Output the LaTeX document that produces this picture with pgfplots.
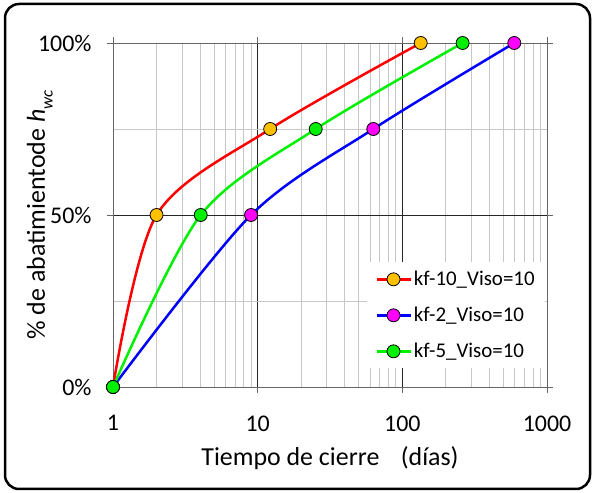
\documentclass[border=0pt]{standalone}
\usepackage{pgfplots}
\pgfplotsset{compat=1.18}
\usepackage{fontspec}
\setmainfont{Carlito}

\definecolor{cRed}{RGB}{255,0,0}
\definecolor{cBlue}{RGB}{0,0,255}
\definecolor{cGreen}{RGB}{0,240,0}
\definecolor{cOrange}{RGB}{255,192,0}
\definecolor{cMagenta}{RGB}{255,0,255}

\begin{document}
\begin{tikzpicture}
\path[use as bounding box] (0,0) rectangle (593bp,493bp);
\draw[line width=2.5bp, rounded corners=14bp] (5bp,4bp) rectangle (590bp,489bp);
\begin{axis}[
    at={(113bp,106bp)}, anchor=south west,
    scale only axis, width=434bp, height=344bp,
    xmode=log, xmin=1, xmax=1000, ymin=0, ymax=100,
    xtick={1,10,100,1000}, xticklabels={1,10,100,1000},
    minor xtick={2,3,4,5,6,7,8,9,20,30,40,50,60,70,80,90,200,300,400,500,600,700,800,900},
    ytick={0,50,100}, yticklabels={0\%,50\%,100\%},
    minor ytick={25,75},
    grid=both,
    major grid style={draw=black!85, line width=0.9bp},
    minor grid style={draw=black!22, line width=0.9bp},
    axis line style={draw=black!60, line width=0.9bp},
    tick align=outside, major tick length=6bp, minor tick length=0bp,
    tick style={draw=black!60, line width=0.9bp},
    ticklabel style={font=\fontsize{24}{28}\selectfont},
    xticklabel style={yshift=-19bp},
    yticklabel style={xshift=-12bp},
    xlabel={Tiempo de cierre\hspace{0.6em} (días)},
    xlabel style={font=\fontsize{26}{30}\selectfont, at={(axis description cs:0.5,-0.228)}, anchor=base},
    ylabel={\% de abatimientode \textit{h}\raisebox{-0.3em}{\fontsize{17}{20}\selectfont\textit{wc}}},
    ylabel style={font=\fontsize{26}{30}\selectfont, at={(axis description cs:-0.157,0.5)}, anchor=base},
    legend style={at={(axis description cs:0.995,0.363)}, anchor=north east,
        draw=none, fill=white, font=\fontsize{21}{25}\selectfont,
        row sep=16bp, inner xsep=8bp, inner ysep=7bp},
    legend cell align=left,
    legend image code/.code={\draw[#1, mark repeat=2, mark phase=2] plot coordinates {(0bp,0bp) (17bp,0bp) (34bp,0bp)};},
]
\addplot[color=cRed, line width=2.5bp, smooth, mark=*, mark size=6.5bp,
    mark options={fill=cOrange, draw=black, line width=0.8bp}]
    coordinates {(1,0) (2,50) (12.2,75) (134,100)};
\addlegendentry{kf-10\_Viso=10}
\addplot[color=cBlue, line width=2.5bp, smooth, mark=*, mark size=6.5bp,
    mark options={fill=cMagenta, draw=black, line width=0.8bp}]
    coordinates {(1,0) (9,50) (63,75) (594,100)};
\addlegendentry{kf-2\_Viso=10}
\addplot[color=cGreen, line width=2.5bp, smooth, mark=*, mark size=6.5bp,
    mark options={fill=cGreen, draw=black, line width=0.8bp}]
    coordinates {(1,0) (4.04,50) (25.2,75) (261,100)};
\addlegendentry{kf-5\_Viso=10}
\end{axis}
\end{tikzpicture}
\end{document}
